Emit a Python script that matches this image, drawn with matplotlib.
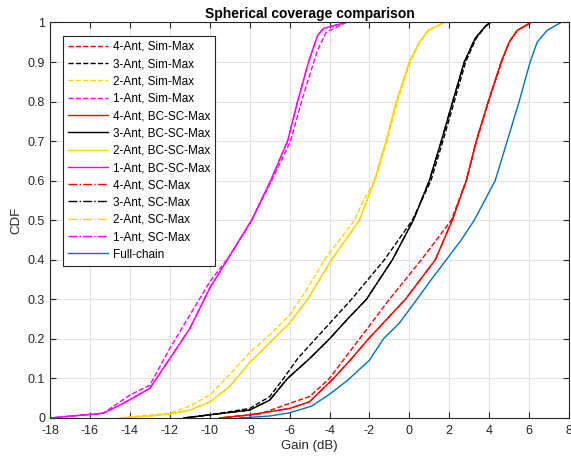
import matplotlib.pyplot as plt

# CDF levels and gain (dB), one pair per curve
# 1-Ant
cdf_1_bc = [0, 0.012, 0.037, 0.075, 0.15, 0.226, 0.328, 0.41, 0.5, 0.6, 0.7, 0.8, 0.9, 0.967, 0.985, 1.0]
gain_1_bc = [-18, -15.33, -14.33, -13.0, -12.0, -11.0, -10.0, -9.0, -7.9, -6.95, -6.1, -5.6, -5.05, -4.6, -4.3, -3.17]
cdf_1_sim = [0, 0.012, 0.058, 0.083, 0.176, 0.26, 0.344, 0.41, 0.5, 0.6, 0.7, 0.8, 0.866, 0.93, 0.975, 1.0]
gain_1_sim = [-18, -15.33, -14.0, -13.0, -12.0, -11.0, -10.0, -9.0, -7.9, -6.9, -5.95, -5.4, -5.0, -4.6, -4.17, -3.17]

# 2-Ant
cdf_2_bc = [0, 0.005, 0.01, 0.02, 0.04, 0.08, 0.14, 0.19, 0.24, 0.3, 0.35, 0.4, 0.5, 0.6, 0.7, 0.8, 0.9, 0.95, 0.98, 1.0]
gain_2_bc = [-14.5, -13.0, -12.0, -11.0, -10.0, -9.0, -8.0, -7.0, -6.0, -5.1, -4.5, -3.9, -2.5, -1.75, -1.17, -0.65, 0.0, 0.5, 0.95, 1.75]
cdf_2_sim = [0, 0.005, 0.012, 0.03, 0.058, 0.11, 0.165, 0.21, 0.26, 0.32, 0.4, 0.5, 0.55, 0.6, 0.7, 0.8, 0.9, 0.95, 0.98, 1.0]
gain_2_sim = [-14.5, -13.5, -12.0, -11.0, -10.0, -9.0, -8.0, -7.0, -6.0, -5.2, -4.25, -2.75, -2.3, -1.72, -1.12, -0.6, 0.05, 0.52, 0.97, 1.75]

# 3-Ant
cdf_3_bc = [0, 0.008, 0.02, 0.045, 0.1, 0.15, 0.2, 0.25, 0.3, 0.4, 0.5, 0.6, 0.7, 0.8, 0.9, 0.96, 0.99, 1.0]
gain_3_bc = [-11.3, -10.0, -8.0, -7.0, -6.1, -5.0, -4.0, -3.1, -2.15, -0.85, 0.2, 1.0, 1.6, 2.17, 2.75, 3.3, 3.8, 4.05]
cdf_3_sim = [0, 0.008, 0.024, 0.054, 0.1, 0.15, 0.2, 0.3, 0.4, 0.5, 0.6, 0.7, 0.8, 0.9, 0.96, 0.99, 1.0]
gain_3_sim = [-11.3, -10.0, -8.0, -7.0, -6.3, -5.6, -4.7, -2.9, -1.25, 0.15, 1.08, 1.68, 2.25, 2.82, 3.35, 3.82, 4.05]

# 4-Ant
cdf_4_bc = [0, 0.008, 0.024, 0.041, 0.1, 0.15, 0.2, 0.3, 0.4, 0.5, 0.6, 0.7, 0.8, 0.9, 0.95, 0.98, 1.0]
gain_4_bc = [-9.5, -8.0, -6.0, -5.0, -3.8, -2.9, -2.05, -0.2, 1.3, 2.15, 2.85, 3.35, 3.95, 4.6, 5.0, 5.4, 6.1]
cdf_4_sim = [0, 0.01, 0.037, 0.054, 0.1, 0.2, 0.3, 0.4, 0.5, 0.6, 0.7, 0.8, 0.9, 0.95, 0.98, 1.0]
gain_4_sim = [-9.5, -7.5, -6.0, -5.0, -4.0, -2.5, -1.0, 0.6, 2.1, 2.85, 3.37, 3.97, 4.62, 5.0, 5.4, 6.1]

# Full-chain
cdf_full = [0, 0.005, 0.013, 0.03, 0.06, 0.095, 0.146, 0.2, 0.24, 0.3, 0.35, 0.4, 0.45, 0.5, 0.6, 0.7, 0.8, 0.9, 0.95, 0.98, 1.0]
gain_full = [-8.5, -7.0, -6.0, -4.9, -4.0, -3.1, -2.0, -1.3, -0.5, 0.38, 1.1, 1.85, 2.6, 3.25, 4.3, 4.9, 5.5, 6.05, 6.4, 6.9, 7.6]

RED = "#FF0000"
BLACK = "#000000"
YELLOW = "#FFD500"
MAGENTA = "#FF00FF"
BLUE = "#0072BD"

plt.rcParams['font.family'] = ['Liberation Sans', 'DejaVu Sans']
plt.rcParams['axes.unicode_minus'] = False

fig = plt.figure(figsize=(5.71, 4.61), dpi=100)
ax = fig.add_axes([0.0876, 0.0933, 0.909, 0.858])

lw = 1.0
ax.plot(gain_4_sim, cdf_4_sim, '--', color=RED, lw=lw, label="4-Ant, Sim-Max")
ax.plot(gain_3_sim, cdf_3_sim, '--', color=BLACK, lw=lw, label="3-Ant, Sim-Max")
ax.plot(gain_2_sim, cdf_2_sim, '--', color=YELLOW, lw=lw, label="2-Ant, Sim-Max")
ax.plot(gain_1_sim, cdf_1_sim, '--', color=MAGENTA, lw=lw, label="1-Ant, Sim-Max")
ax.plot(gain_4_bc, cdf_4_bc, '-', color=RED, lw=lw, label="4-Ant, BC-SC-Max")
ax.plot(gain_3_bc, cdf_3_bc, '-', color=BLACK, lw=lw, label="3-Ant, BC-SC-Max")
ax.plot(gain_2_bc, cdf_2_bc, '-', color=YELLOW, lw=lw, label="2-Ant, BC-SC-Max")
ax.plot(gain_1_bc, cdf_1_bc, '-', color=MAGENTA, lw=lw, label="1-Ant, BC-SC-Max")
# SC-Max curves sit on top of the BC-SC-Max ones
ax.plot(gain_4_bc, cdf_4_bc, '-.', color=RED, lw=lw, label="4-Ant, SC-Max")
ax.plot(gain_3_bc, cdf_3_bc, '-.', color=BLACK, lw=lw, label="3-Ant, SC-Max")
ax.plot(gain_2_bc, cdf_2_bc, '-.', color=YELLOW, lw=lw, label="2-Ant, SC-Max")
ax.plot(gain_1_bc, cdf_1_bc, '-.', color=MAGENTA, lw=lw, label="1-Ant, SC-Max")
ax.plot(gain_full, cdf_full, '-', color=BLUE, lw=lw, label="Full-chain")

ax.set_xlim(-18, 8)
ax.set_ylim(0, 1)
ax.set_xticks(range(-18, 9, 2))
ax.set_yticks([i / 10 for i in range(11)])
ax.set_yticklabels(["0", "0.1", "0.2", "0.3", "0.4", "0.5", "0.6", "0.7", "0.8", "0.9", "1"])
ax.grid(True, color="#e3e3e3", lw=0.8)
ax.set_axisbelow(True)
ax.tick_params(direction="in", top=True, right=True, labelsize=9, colors="#262626", length=4)
ax.tick_params(axis="x", pad=5)
for s in ax.spines.values():
    s.set_color("#262626")
    s.set_linewidth(0.8)

ax.set_title("Spherical coverage comparison", fontsize=10, fontweight="bold", pad=3)
ax.set_xlabel("Gain (dB)", fontsize=9.5, color="#262626", labelpad=2)
ax.set_ylabel("CDF", fontsize=9.5, color="#262626", labelpad=4)

leg = ax.legend(loc="upper left", bbox_to_anchor=(0.025, 0.967), borderaxespad=0, fontsize=8.5,
                frameon=True, fancybox=False, edgecolor="#262626", framealpha=1,
                handlelength=3.4, handletextpad=0.35, labelspacing=0.45, borderpad=0.45)
leg.get_frame().set_linewidth(0.8)

fig.savefig("out.png", dpi=100)
